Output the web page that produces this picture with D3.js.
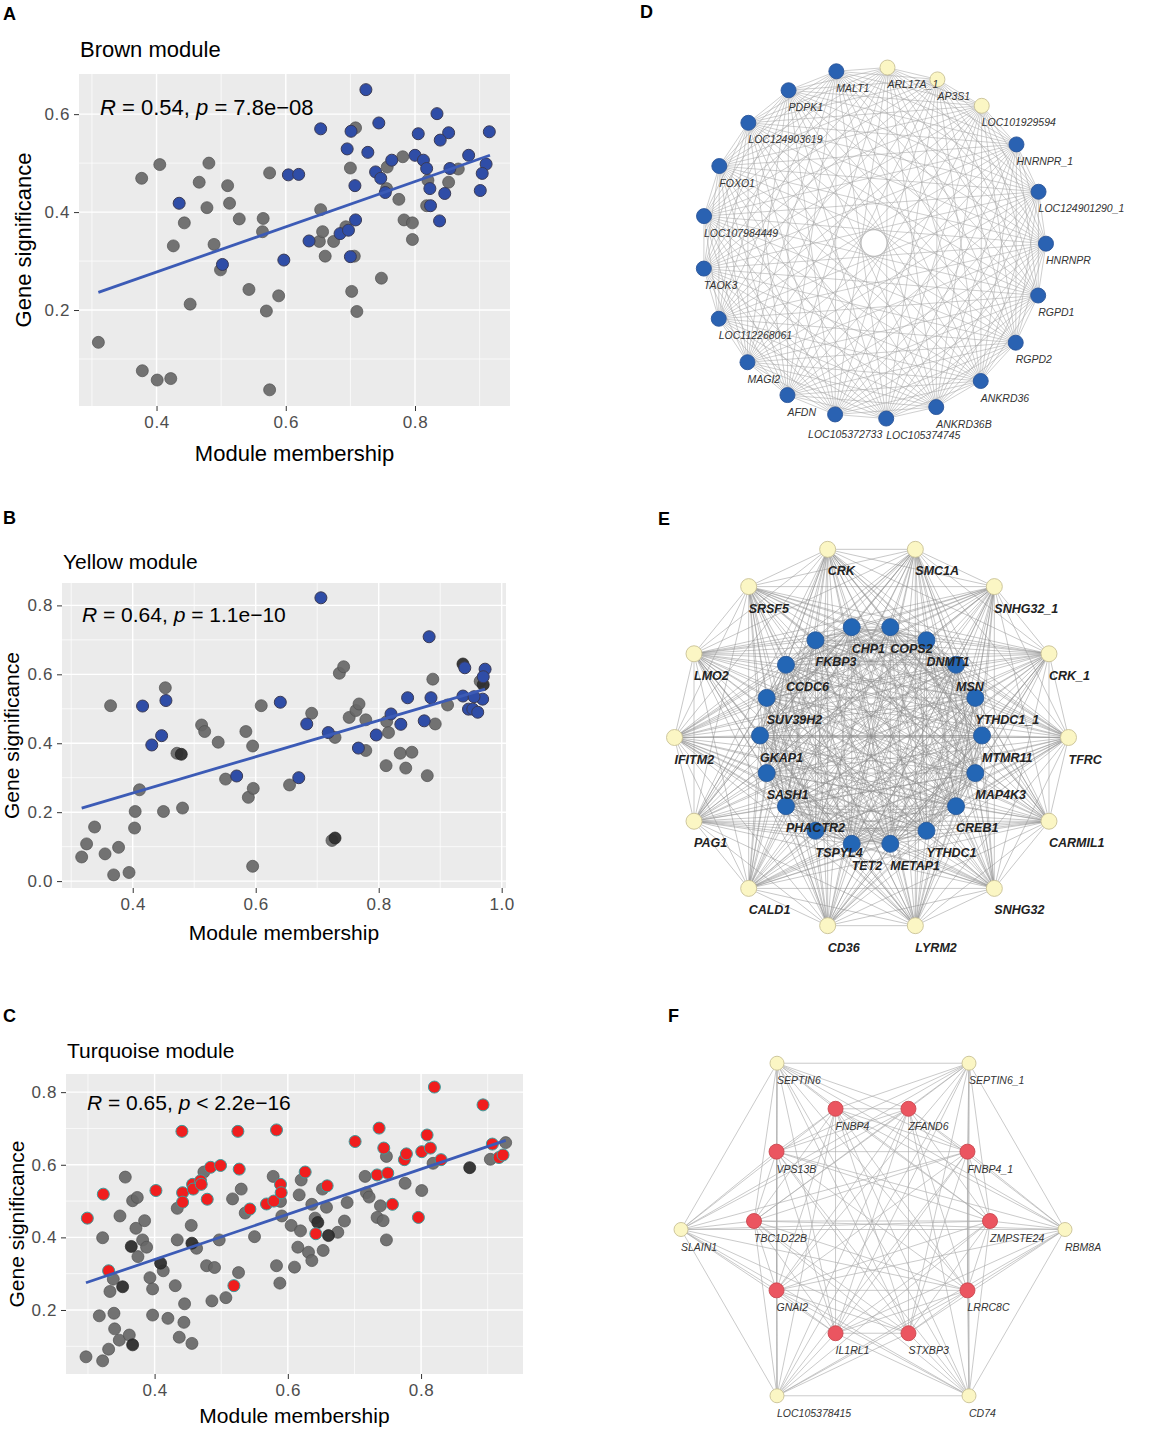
<!DOCTYPE html>
<html><head><meta charset="utf-8">
<script src="https://cdn.jsdelivr.net/npm/d3@7"></script>
<style>
body{margin:0;background:#fff}
svg{display:block}
text{font-family:"Liberation Sans",Arial,Helvetica,sans-serif}
</style>
</head><body>
<svg id="fig" width="1170" height="1432"></svg>
<script>
// ---------------- DATA ----------------
// Panel A: Brown module (Module membership, Gene significance)
const aGrey = [[0.310,0.134],[0.377,0.469],[0.378,0.076],[0.401,0.057],[0.422,0.060],[0.405,0.497],[0.426,0.331],[0.443,0.378],[0.452,0.212],[0.466,0.461],[0.478,0.409],[0.481,0.500],[0.489,0.334],[0.499,0.282],[0.510,0.454],[0.513,0.418],[0.528,0.386],[0.543,0.242],[0.565,0.387],[0.564,0.360],[0.575,0.480],[0.575,0.037],[0.570,0.198],[0.589,0.229],[0.654,0.405],[0.652,0.340],[0.657,0.360],[0.661,0.310],[0.674,0.340],[0.693,0.370],[0.700,0.490],[0.708,0.572],[0.706,0.310],[0.702,0.238],[0.710,0.197],[0.748,0.265],[0.757,0.492],[0.756,0.448],[0.775,0.426],[0.781,0.513],[0.783,0.384],[0.796,0.378],[0.796,0.344],[0.820,0.465],[0.818,0.413],[0.852,0.461],[0.867,0.488]];
const aBlue = [[0.724,0.650],[0.834,0.601],[0.744,0.582],[0.654,0.570],[0.701,0.565],[0.805,0.560],[0.852,0.562],[0.915,0.564],[0.839,0.547],[0.695,0.529],[0.727,0.522],[0.764,0.506],[0.800,0.516],[0.813,0.506],[0.818,0.489],[0.883,0.516],[0.910,0.498],[0.904,0.479],[0.901,0.444],[0.739,0.482],[0.747,0.469],[0.604,0.476],[0.620,0.477],[0.435,0.418],[0.707,0.454],[0.708,0.384],[0.823,0.448],[0.824,0.413],[0.838,0.382],[0.846,0.438],[0.636,0.341],[0.684,0.356],[0.697,0.363],[0.597,0.302],[0.700,0.309],[0.502,0.293],[0.754,0.440],[0.854,0.489]];
const aDark = [];
const aFit = [[0.310,0.236],[0.916,0.516]];
const aXTicks = [0.4,0.6,0.8], aYTicks = [0.2,0.4,0.6];
const aXMinor = [0.3,0.5,0.7,0.9], aYMinor = [0.1,0.3,0.5];

// Panel B: Yellow module
const bGrey = [[0.317,0.070],[0.325,0.108],[0.338,0.157],[0.355,0.079],[0.369,0.018],[0.377,0.098],[0.394,0.025],[0.403,0.154],[0.404,0.202],[0.411,0.265],[0.364,0.509],[0.453,0.561],[0.450,0.202],[0.472,0.371],[0.481,0.212],[0.512,0.453],[0.517,0.434],[0.539,0.403],[0.551,0.296],[0.584,0.434],[0.595,0.392],[0.588,0.243],[0.596,0.269],[0.595,0.043],[0.609,0.509],[0.655,0.279],[0.691,0.487],[0.724,0.118],[0.729,0.417],[0.736,0.603],[0.743,0.622],[0.752,0.475],[0.763,0.495],[0.768,0.514],[0.779,0.468],[0.779,0.379],[0.812,0.335],[0.813,0.463],[0.816,0.431],[0.835,0.371],[0.854,0.374],[0.844,0.328],[0.879,0.306],[0.888,0.586],[0.892,0.456],[0.912,0.511],[0.965,0.580]];
const bBlue = [[0.706,0.822],[0.882,0.709],[0.416,0.508],[0.454,0.524],[0.447,0.422],[0.431,0.395],[0.569,0.305],[0.640,0.519],[0.670,0.300],[0.683,0.456],[0.718,0.431],[0.767,0.386],[0.796,0.424],[0.820,0.485],[0.836,0.455],[0.847,0.532],[0.885,0.532],[0.874,0.465],[0.940,0.619],[0.937,0.537],[0.946,0.499],[0.953,0.499],[0.961,0.490],[0.969,0.528],[0.973,0.615],[0.970,0.593],[0.955,0.535]];
const bDark = [[0.479,0.368],[0.729,0.125],[0.937,0.630],[0.970,0.570]];
const bFit = [[0.317,0.212],[0.973,0.557]];
const bXTicks = [0.4,0.6,0.8,1.0], bYTicks = [0.0,0.2,0.4,0.6,0.8];
const bXMinor = [0.3,0.5,0.7,0.9], bYMinor = [0.1,0.3,0.5,0.7];

// Panel C: Turquoise module
const cGrey = [[0.297,0.071],[0.322,0.060],[0.317,0.184],[0.322,0.399],[0.331,0.092],[0.333,0.251],[0.339,0.191],[0.340,0.148],[0.338,0.285],[0.347,0.117],[0.356,0.566],[0.348,0.459],[0.362,0.131],[0.367,0.501],[0.374,0.510],[0.372,0.425],[0.375,0.347],[0.382,0.393],[0.385,0.446],[0.388,0.373],[0.393,0.289],[0.397,0.258],[0.397,0.186],[0.413,0.308],[0.420,0.177],[0.431,0.267],[0.434,0.393],[0.434,0.480],[0.437,0.125],[0.444,0.166],[0.445,0.217],[0.455,0.433],[0.463,0.370],[0.456,0.108],[0.474,0.580],[0.478,0.322],[0.490,0.317],[0.486,0.225],[0.497,0.393],[0.507,0.234],[0.517,0.506],[0.526,0.303],[0.530,0.533],[0.536,0.467],[0.550,0.402],[0.578,0.568],[0.583,0.322],[0.588,0.274],[0.589,0.499],[0.591,0.459],[0.605,0.433],[0.610,0.318],[0.615,0.373],[0.617,0.517],[0.620,0.558],[0.619,0.418],[0.631,0.359],[0.636,0.336],[0.636,0.491],[0.641,0.453],[0.652,0.533],[0.653,0.364],[0.658,0.483],[0.675,0.414],[0.685,0.445],[0.689,0.496],[0.716,0.568],[0.718,0.523],[0.722,0.511],[0.734,0.455],[0.739,0.487],[0.743,0.446],[0.748,0.393],[0.748,0.623],[0.776,0.549],[0.801,0.529],[0.818,0.604],[0.904,0.615],[0.927,0.661]];
const cRed = [[0.299,0.453],[0.323,0.519],[0.331,0.308],[0.402,0.529],[0.441,0.692],[0.442,0.523],[0.442,0.497],[0.457,0.546],[0.458,0.533],[0.469,0.556],[0.470,0.546],[0.479,0.505],[0.484,0.593],[0.499,0.598],[0.525,0.692],[0.527,0.588],[0.543,0.478],[0.519,0.267],[0.568,0.492],[0.579,0.500],[0.583,0.696],[0.589,0.546],[0.590,0.523],[0.626,0.580],[0.659,0.542],[0.642,0.410],[0.701,0.664],[0.734,0.572],[0.737,0.701],[0.744,0.646],[0.750,0.577],[0.757,0.491],[0.775,0.614],[0.778,0.630],[0.796,0.455],[0.801,0.636],[0.809,0.682],[0.814,0.646],[0.820,0.814],[0.830,0.614],[0.893,0.765],[0.907,0.657],[0.917,0.620],[0.923,0.627]];
const cDark = [[0.367,0.104],[0.365,0.375],[0.409,0.329],[0.456,0.384],[0.645,0.441],[0.661,0.405],[0.873,0.592],[0.352,0.264]];
const cFit = [[0.297,0.275],[0.927,0.667]];
const cXTicks = [0.4,0.6,0.8], cYTicks = [0.2,0.4,0.6,0.8];
const cXMinor = [0.3,0.5,0.7,0.9], cYMinor = [0.1,0.3,0.5,0.7];

// Network D (clockwise from top)
const dNodes = ["ARL17A_1","AP3S1","LOC101929594","HNRNPR_1","LOC124901290_1","HNRNPR","RGPD1","RGPD2","ANKRD36","ANKRD36B","LOC105374745","LOC105372733","AFDN","MAGI2","LOC112268061","TAOK3","LOC107984449","FOXO1","LOC124903619","PDPK1","MALT1"];
const dHubs = ["ARL17A_1","AP3S1","LOC101929594"];
// Network E
const eOuter = ["SMC1A","SNHG32_1","CRK_1","TFRC","CARMIL1","SNHG32","LYRM2","CD36","CALD1","PAG1","IFITM2","LMO2","SRSF5","CRK"];
const eInner = ["COPS2","DNMT1","MSN","YTHDC1_1","MTMR11","MAP4K3","CREB1","YTHDC1","METAP1","TET2","TSPYL4","PHACTR2","SASH1","GKAP1","SUV39H2","CCDC6","FKBP3","CHP1"];
// Network F
const fOuter = ["SEPTIN6_1","RBM8A","CD74","LOC105378415","SLAIN1","SEPTIN6"];
const fInner = ["ZFAND6","FNBP4_1","ZMPSTE24","LRRC8C","STXBP3","IL1RL1","GNAI2","TBC1D22B","VPS13B","FNBP4"];

// ---------------- DRAWING ----------------
const svg = d3.select("#fig");
const fmt = d3.format(".1f");

function scatter(cfg){
  const g = svg.append("g");
  const x = d3.scaleLinear().domain(cfg.xd).range([cfg.x0, cfg.x1]);
  const y = d3.scaleLinear().domain(cfg.yd).range([cfg.y1, cfg.y0]);
  g.append("rect").attr("x",cfg.x0).attr("y",cfg.y0).attr("width",cfg.x1-cfg.x0).attr("height",cfg.y1-cfg.y0).attr("fill","#ebebeb");
  g.selectAll(".mx").data(cfg.xMinor).join("line").attr("x1",d=>x(d)).attr("x2",d=>x(d)).attr("y1",cfg.y0).attr("y2",cfg.y1).attr("stroke","#fff").attr("stroke-width",0.7);
  g.selectAll(".my").data(cfg.yMinor).join("line").attr("y1",d=>y(d)).attr("y2",d=>y(d)).attr("x1",cfg.x0).attr("x2",cfg.x1).attr("stroke","#fff").attr("stroke-width",0.7);
  g.selectAll(".Mx").data(cfg.xTicks).join("line").attr("x1",d=>x(d)).attr("x2",d=>x(d)).attr("y1",cfg.y0).attr("y2",cfg.y1).attr("stroke","#fff").attr("stroke-width",1.4);
  g.selectAll(".My").data(cfg.yTicks).join("line").attr("y1",d=>y(d)).attr("y2",d=>y(d)).attr("x1",cfg.x0).attr("x2",cfg.x1).attr("stroke","#fff").attr("stroke-width",1.4);
  const pts = (data, fill, stroke, sw, op) => g.append("g").selectAll("circle").data(data).join("circle")
     .attr("cx",d=>x(d[0])).attr("cy",d=>y(d[1])).attr("r",6)
     .attr("fill",fill).attr("stroke",stroke).attr("stroke-width",sw).attr("fill-opacity",op);
  pts(cfg.grey, "#676767", "#505050", 0.7, 0.92);
  pts(cfg.dark, "#2e2e2e", "#222", 0.7, 0.95);
  pts(cfg.col, cfg.colFill, cfg.colStroke, 1, 1);
  g.append("path").datum(cfg.fit).attr("d", d3.line().x(d=>x(d[0])).y(d=>y(d[1])))
    .attr("stroke","#3c5bb6").attr("stroke-width",2.8).attr("fill","none");
  const ax = g.append("g").attr("transform",`translate(0,${cfg.y1})`)
    .call(d3.axisBottom(x).tickValues(cfg.xTicks).tickSize(5).tickPadding(5).tickFormat(fmt));
  const ay = g.append("g").attr("transform",`translate(${cfg.x0},0)`)
    .call(d3.axisLeft(y).tickValues(cfg.yTicks).tickSize(5).tickPadding(4).tickFormat(fmt));
  [ax,ay].forEach(a=>{
    a.select(".domain").remove();
    a.selectAll("line").attr("stroke","#333");
    a.selectAll("text").attr("fill","#4d4d4d").style("font-size","17px").style("letter-spacing","0.6px").style("font-family","'Liberation Sans',Arial,sans-serif");
  });
  g.append("text").attr("x",cfg.titleX).attr("y",cfg.titleY).text(cfg.title).style("font-size",cfg.fs+"px").attr("fill","#000");
  const ann = g.append("text").attr("x",cfg.annX).attr("y",cfg.annY).style("font-size",cfg.fs+"px").attr("fill","#000");
  ann.append("tspan").text("R").style("font-style","italic");
  ann.append("tspan").text(" = " + cfg.r + ", ");
  ann.append("tspan").text("p").style("font-style","italic");
  ann.append("tspan").text(" " + cfg.p);
  g.append("text").attr("x",(cfg.x0+cfg.x1)/2).attr("y",cfg.xlabY).attr("text-anchor","middle").text("Module membership").style("font-size",cfg.fs+"px");
  g.append("text").attr("transform",`translate(${cfg.ylabX},${(cfg.y0+cfg.y1)/2}) rotate(-90)`).attr("text-anchor","middle").text("Gene significance").style("font-size",cfg.fs+"px");
  svg.append("text").attr("x",cfg.lx).attr("y",cfg.ly).text(cfg.letter).style("font-size","18px").style("font-weight","bold");
}

scatter({x0:79,x1:510,y0:74,y1:406,xd:[0.28,0.947],yd:[0.004,0.682],
  xTicks:aXTicks,yTicks:aYTicks,xMinor:aXMinor,yMinor:aYMinor,
  grey:aGrey,dark:aDark,col:aBlue,colFill:"#2f4da7",colStroke:"#3b3b55",fit:aFit,
  title:"Brown module",titleX:80,titleY:57,annX:100,annY:115,r:"0.54",p:"= 7.8e\u221208",
  xlabY:461,ylabX:31,fs:22,letter:"A",lx:3,ly:20});

scatter({x0:62,x1:506,y0:583,y1:888,xd:[0.285,1.007],yd:[-0.02,0.865],
  xTicks:bXTicks,yTicks:bYTicks,xMinor:bXMinor,yMinor:bYMinor,
  grey:bGrey,dark:bDark,col:bBlue,colFill:"#2f4da7",colStroke:"#3b3b55",fit:bFit,
  title:"Yellow module",titleX:63,titleY:569,annX:82,annY:622,r:"0.64",p:"= 1.1e\u221210",
  xlabY:940,ylabX:19,fs:21,letter:"B",lx:3,ly:524});

scatter({x0:66,x1:523,y0:1074,y1:1374,xd:[0.267,0.953],yd:[0.0237,0.85],
  xTicks:cXTicks,yTicks:cYTicks,xMinor:cXMinor,yMinor:cYMinor,
  grey:cGrey,dark:cDark,col:cRed,colFill:"#f01e1e",colStroke:"#3c9c9c",fit:cFit,
  title:"Turquoise module",titleX:67,titleY:1058,annX:87,annY:1110,r:"0.65",p:"< 2.2e\u221216",
  xlabY:1423,ylabX:24,fs:21,letter:"C",lx:3,ly:1022});

// ---------- networks ----------
function ring(names, cx, cy, rx, ry, startDeg, type){
  const step = 360/names.length;
  return names.map((n,i)=>{
    const a = (startDeg + i*step)*Math.PI/180;
    return {name:n, x:cx + rx*Math.sin(a), y:cy - ry*Math.cos(a), type};
  });
}
function allPairs(nodes){
  const e=[];
  for(let i=0;i<nodes.length;i++) for(let j=i+1;j<nodes.length;j++) e.push([nodes[i],nodes[j]]);
  return e;
}
function network(nodes, edges, st){
  const g = svg.append("g");
  g.append("g").selectAll("line").data(edges).join("line")
    .attr("x1",d=>d[0].x).attr("y1",d=>d[0].y).attr("x2",d=>d[1].x).attr("y2",d=>d[1].y)
    .attr("stroke",st.edge).attr("stroke-width",st.ew).attr("stroke-opacity",st.eo);
  g.append("g").selectAll("circle").data(nodes).join("circle")
    .attr("cx",d=>d.x).attr("cy",d=>d.y).attr("r",d=>st.r[d.type])
    .attr("fill",d=>st.fill[d.type]).attr("stroke",d=>st.stroke[d.type]).attr("stroke-width",0.9);
  g.append("g").selectAll("text").data(nodes).join("text")
    .attr("x",d=>d.x + (st.ldx[d.name]||0)).attr("y",d=>d.y + st.ldy + (st.ldyy[d.name]||0))
    .text(d=>d.name).style("font-size",st.fs+"px").style("font-style","italic")
    .style("font-weight",st.fw).attr("fill",st.tc);
}

// D
const dRing = ring(dNodes, 874, 243, 172, 176, 4.5, "blue");
dRing.forEach(n=>{ if(dHubs.includes(n.name)) n.type="hub"; });
network(dRing, allPairs(dRing), {edge:"#a8a8a8",ew:0.65,eo:0.85,
  r:{hub:7.5,blue:7.5},fill:{hub:"#fbf6c4",blue:"#2a62b2"},stroke:{hub:"#c8c196",blue:"#2a5599"},
  ldx:{"LOC105372733":-27},ldy:20.5,ldyy:{"LOC105372733":3},fs:10.5,fw:"normal",tc:"#333"});
svg.append("text").attr("x",640).attr("y",18).text("D").style("font-size","18px").style("font-weight","bold");

// E
const eO = ring(eOuter, 871.5, 737.5, 197, 193, 360/28, "hub");
const eI = ring(eInner, 871, 735.5, 111, 110, 10, "blue");
const eAll = eO.concat(eI);
network(eAll, allPairs(eAll), {edge:"#8c8c8c",ew:0.65,eo:0.75,
  r:{hub:8,blue:8.5},fill:{hub:"#fbf6c4",blue:"#2366b5"},stroke:{hub:"#c8c196",blue:"#2a5a9a"},
  ldx:{},ldy:26,ldyy:{},fs:12.5,fw:"bold",tc:"#222"});
svg.append("text").attr("x",658).attr("y",525).text("E").style("font-size","18px").style("font-weight","bold");

// F
const fO = ring(fOuter, 873, 1229.5, 192, 192, 30, "hub");
const fI = ring(fInner, 872, 1221, 118, 118, 18, "red");
const fAll = fO.concat(fI);
network(fAll, allPairs(fAll), {edge:"#acacac",ew:0.75,eo:0.85,
  r:{hub:7,red:7.5},fill:{hub:"#fbf6c4",red:"#eb5560"},stroke:{hub:"#c8c196",red:"#c9474f"},
  ldx:{},ldy:21,ldyy:{},fs:10.5,fw:"normal",tc:"#333"});
svg.append("text").attr("x",668).attr("y",1022).text("F").style("font-size","18px").style("font-weight","bold");
</script>
</body></html>
